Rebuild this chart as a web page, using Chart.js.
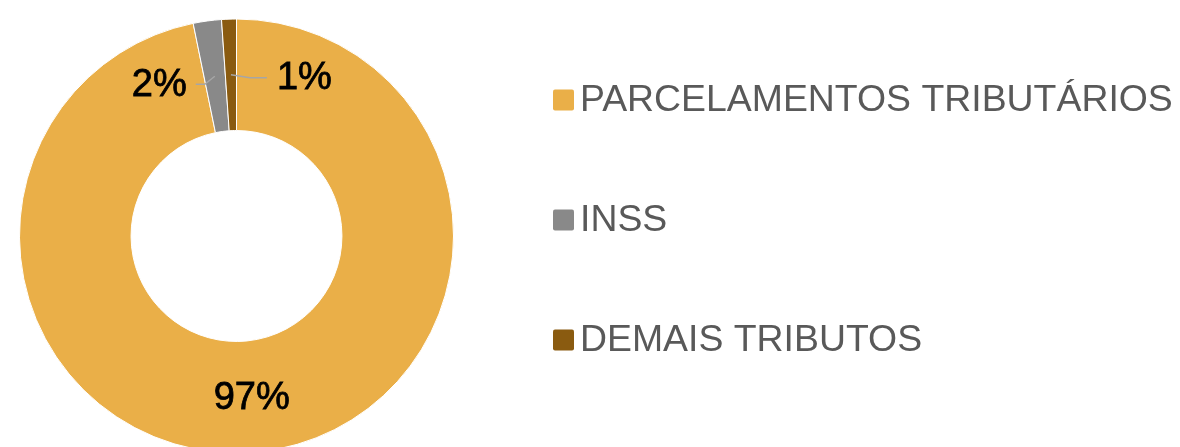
<!DOCTYPE html>
<html>
<head>
<meta charset="utf-8">
<script src="https://cdn.jsdelivr.net/npm/chart.js@4/dist/chart.umd.min.js"></script>
<style>
  html, body { margin: 0; padding: 0; background: #fff; overflow: hidden; }
  #wrap { position: relative; width: 1180px; height: 474px; }
</style>
</head>
<body>
<div id="wrap"><canvas id="tributosChart"></canvas></div>
<script>
// dados
const categorias = ['PARCELAMENTOS TRIBUTÁRIOS', 'INSS', 'DEMAIS TRIBUTOS'];
const valores = [96.8, 2.1, 1.1];
const rotulos = ['97%', '2%', '1%'];
const cores = ['#EAAF48', '#898989', '#8A5B10'];

// deslocamento dos rótulos em relação ao centro de cada fatia (linha de chamada)
const chamadas = [
    null,
    { cotovelo: [-10, 8], fim: [-19, 8], lado: 'left' },
    { cotovelo: [19, 3], fim: [36, 3], lado: 'right' }
];

const fonte = '"Liberation Sans", Arial, sans-serif';

const rotulosPlugin = {
    id: 'rotulos',
    afterDatasetsDraw(chart) {
        const ctx = chart.ctx;
        const meta = chart.getDatasetMeta(0);
        ctx.save();
        meta.data.forEach((arc, i) => {
            const p = arc.tooltipPosition();
            const c = chamadas[i];
            ctx.font = '38px ' + fonte;
            ctx.fillStyle = '#000';
            ctx.textBaseline = 'middle';
            // leve contorno para engrossar o traço como no original
            ctx.strokeStyle = '#000';
            ctx.lineWidth = 0.8;
            if (!c) {
                ctx.textAlign = 'center';
                ctx.fillText(rotulos[i], p.x - 1, p.y + 2);
                ctx.strokeText(rotulos[i], p.x - 1, p.y + 2);
                return;
            }
            const ex = p.x + c.cotovelo[0], ey = p.y + c.cotovelo[1];
            const fx = p.x + c.fim[0], fy = p.y + c.fim[1];
            let tx;
            if (c.lado === 'left') {
                ctx.textAlign = 'right';
                tx = fx - 9;
            } else {
                ctx.textAlign = 'left';
                tx = fx + 10;
            }
            ctx.fillText(rotulos[i], tx, fy + 1);
            ctx.strokeText(rotulos[i], tx, fy + 1);
            ctx.strokeStyle = '#A6A6A6';
            ctx.lineWidth = 1.5;
            ctx.beginPath();
            ctx.moveTo(p.x, p.y);
            ctx.lineTo(ex, ey);
            ctx.lineTo(fx, fy);
            ctx.stroke();
        });
        ctx.restore();
    }
};

const legendaPlugin = {
    id: 'legenda',
    afterDraw(chart) {
        const ctx = chart.ctx;
        const x0 = 553, y0 = 100, passo = 120, lado = 21;
        ctx.save();
        categorias.forEach((nome, i) => {
            const y = y0 + i * passo;
            ctx.fillStyle = cores[i];
            ctx.beginPath();
            ctx.roundRect(x0, y - lado / 2, lado, lado, 2);
            ctx.fill();
            ctx.fillStyle = '#595959';
            ctx.font = '37.4px ' + fonte;
            ctx.textAlign = 'left';
            ctx.textBaseline = 'middle';
            ctx.fillText(nome, x0 + lado + 6, y + 1);
        });
        ctx.restore();
    }
};

const ctx = document.getElementById('tributosChart').getContext('2d');
new Chart(ctx, {
    type: 'doughnut',
    data: {
        labels: categorias,
        datasets: [{
            data: valores,
            backgroundColor: cores,
            borderColor: '#ffffff',
            borderWidth: 1
        }]
    },
    options: {
        responsive: true,
        maintainAspectRatio: false,
        animation: false,
        cutout: '48.6%',
        layout: {
            padding: { left: 19, top: 18, right: 726, bottom: 20 }
        },
        plugins: {
            legend: { display: false },
            tooltip: { enabled: false }
        }
    },
    plugins: [rotulosPlugin, legendaPlugin]
});
</script>
</body>
</html>
